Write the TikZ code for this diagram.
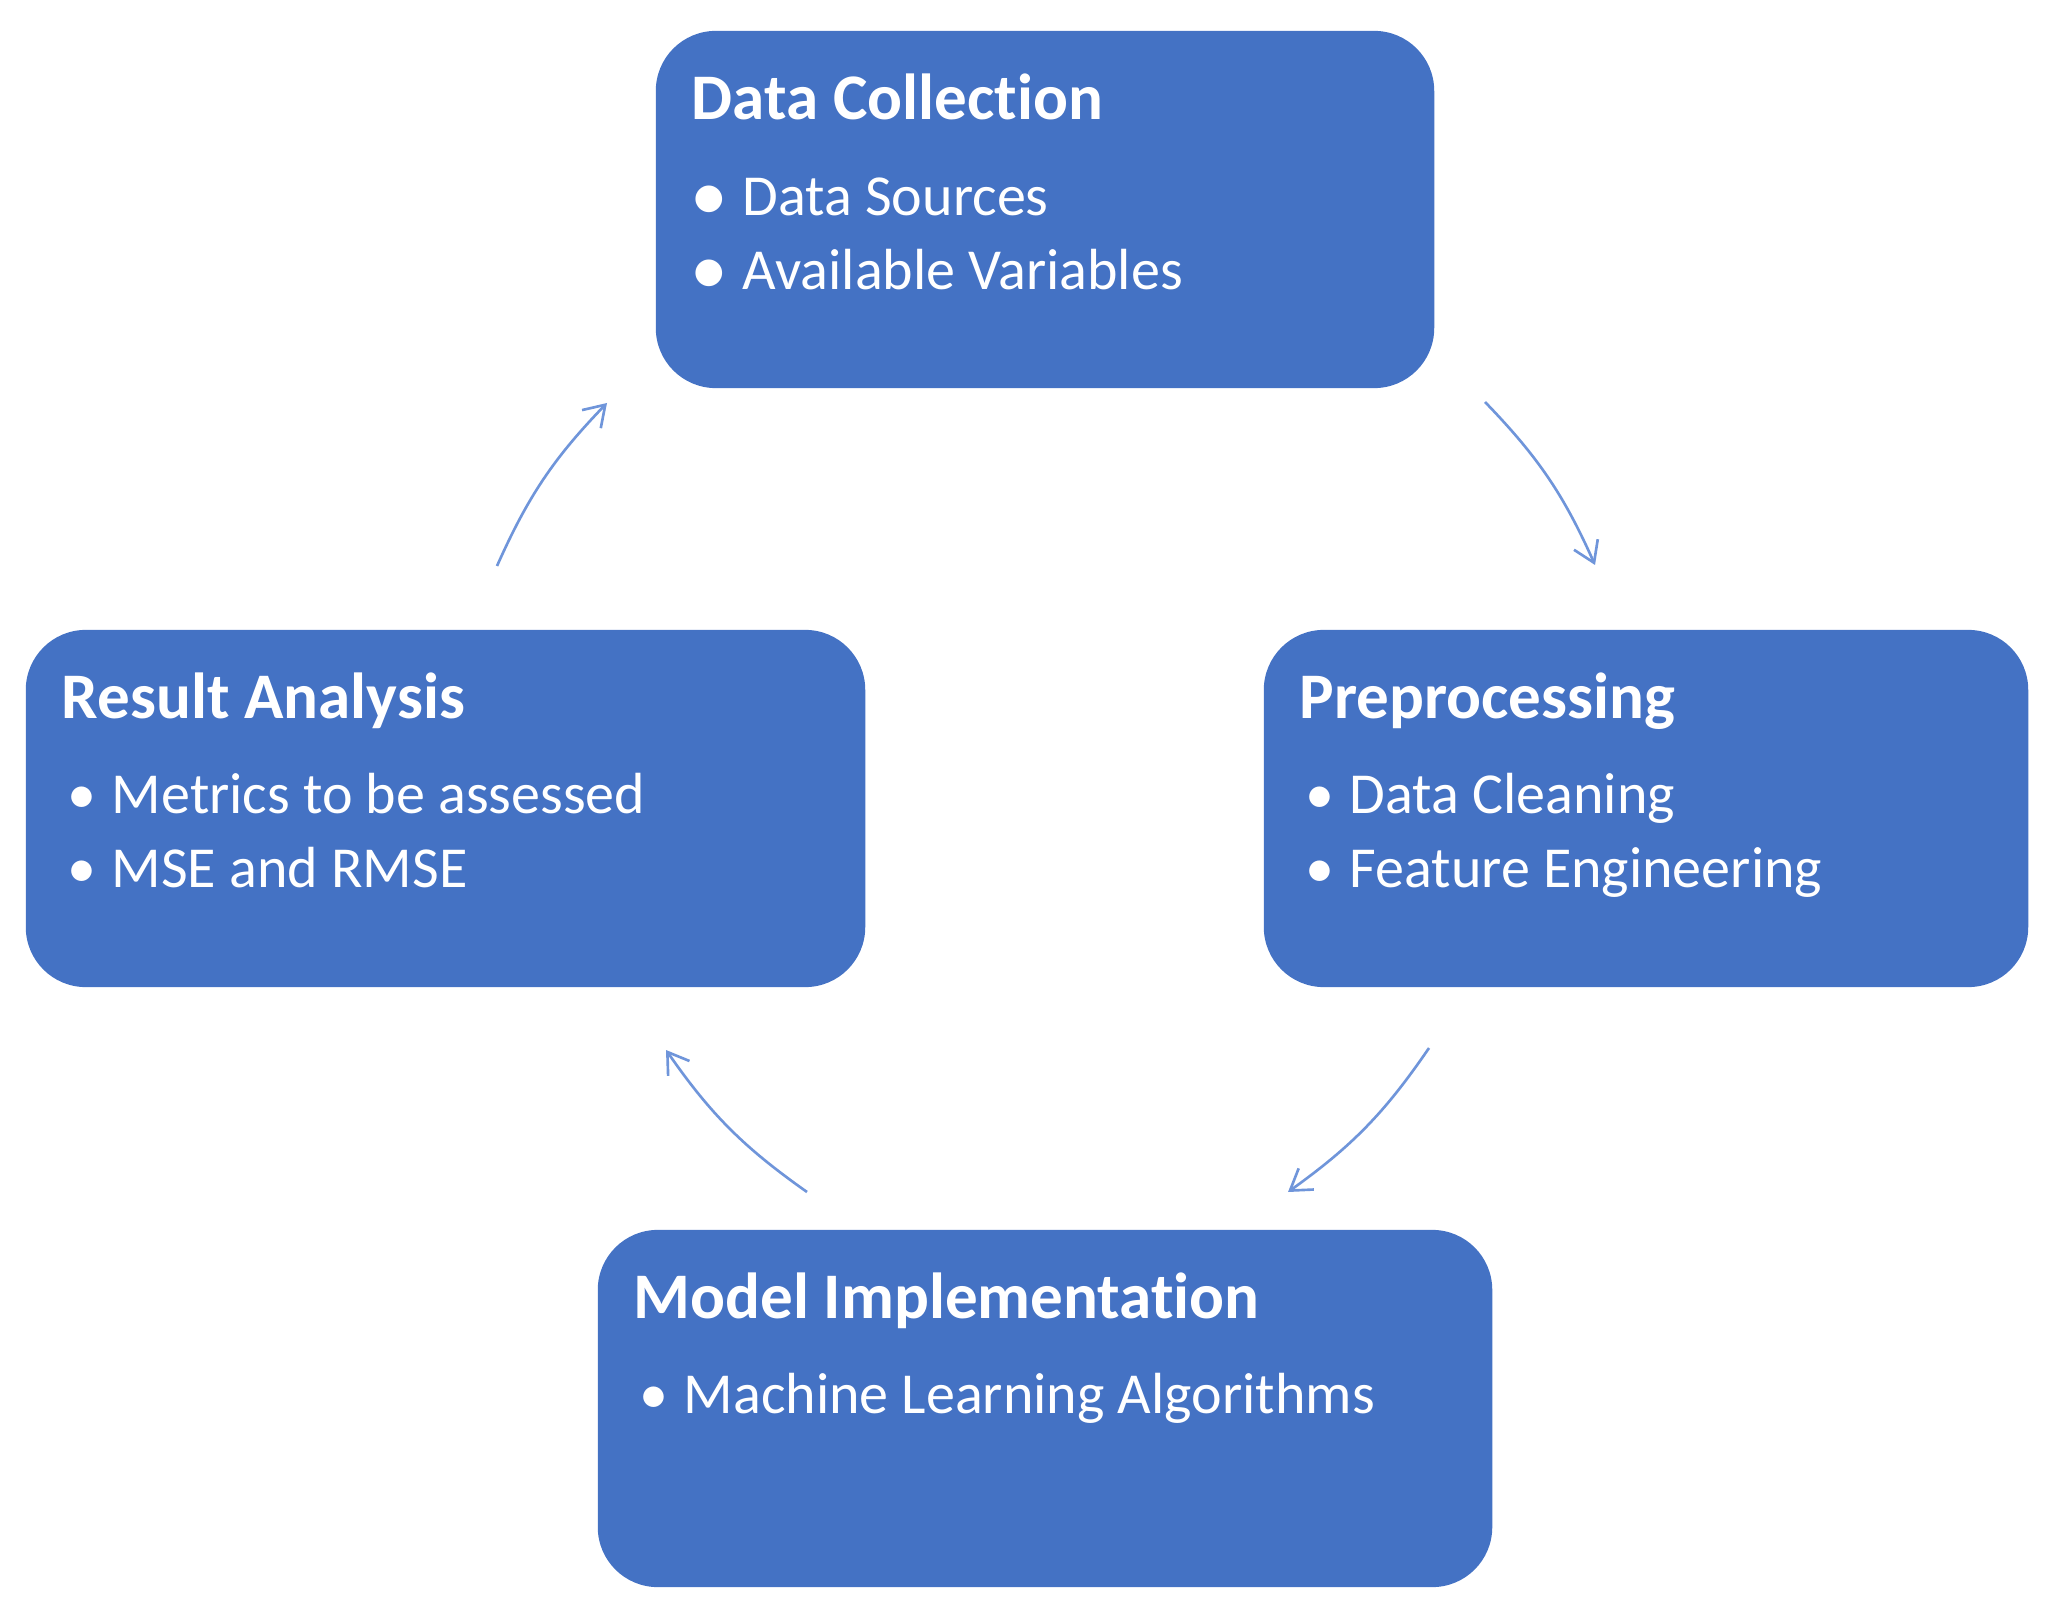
\documentclass[tikz,border=0pt]{standalone}
\usepackage{fontspec}
\setmainfont{Carlito}[Ligatures=NoCommon]
\usetikzlibrary{arrows.meta}
\definecolor{boxblue}{HTML}{4472C4}
\definecolor{flowblue}{HTML}{6F95DA}
\newcommand\bigbullet{\raisebox{-0.1em}{\scalebox{1.3}{\textbullet}}}

\begin{document}
\begin{tikzpicture}[x=0.01cm, y=-0.01cm,
  stage/.style={fill=boxblue, rounded corners=0.6cm, minimum height=3.57cm, inner sep=0},
  heading/.style={anchor=base west, inner sep=0, text=white, font=\fontsize{18.5}{22}\selectfont\bfseries},
  entry/.style={anchor=base west, inner sep=0, text=white, font=\fontsize{16.5}{20}\selectfont},
  flow/.style={draw=flowblue, line width=0.75pt, -{Straight Barb[length=0.2cm, width=0.26cm]}, bend left=10}]
\useasboundingbox (0,0) rectangle (2049,1613);

% Data Collection (top)
\node[stage, minimum width=7.78cm] (dc) at (1045,209.5) {};
\node[heading] (dc-title) at ([shift={(36,89)}]dc.north west) {Data Collection};
\node[entry] (dc-a) at ([shift={(35,185)}]dc.north west) {\makebox[0.52cm][l]{\bigbullet}Data Sources};
\node[entry] (dc-b) at ([shift={(35,259)}]dc.north west) {\makebox[0.52cm][l]{\bigbullet}Available Variables};

% Preprocessing (right)
\node[stage, minimum width=7.64cm] (pp) at (1646,808.5) {};
\node[heading] (pp-title) at ([shift={(36,89)}]pp.north west) {Preprocessing};
\node[entry] (pp-a) at ([shift={(42,184)}]pp.north west) {\makebox[0.44cm][l]{\textbullet}Data Cleaning};
\node[entry] (pp-b) at ([shift={(42,258)}]pp.north west) {\makebox[0.44cm][l]{\textbullet}Feature Engineering};

% Model Implementation (bottom)
\node[stage, minimum width=8.94cm] (mi) at (1045,1408.5) {};
\node[heading] (mi-title) at ([shift={(36,89)}]mi.north west) {Model Implementation};
\node[entry] (mi-a) at ([shift={(42,184)}]mi.north west) {\makebox[0.44cm][l]{\textbullet}Machine Learning Algorithms};

% Result Analysis (left)
\node[stage, minimum width=8.39cm] (ra) at (445.5,808.5) {};
\node[heading] (ra-title) at ([shift={(36,89)}]ra.north west) {Result Analysis};
\node[entry] (ra-a) at ([shift={(42,184)}]ra.north west) {\makebox[0.44cm][l]{\textbullet}Metrics to be assessed};
\node[entry] (ra-b) at ([shift={(42,258)}]ra.north west) {\makebox[0.44cm][l]{\textbullet}MSE and RMSE};

% arrow ends
\coordinate (ra-top) at (497,566);
\coordinate (dc-left) at (607,403);
\coordinate (dc-right) at (1485,402);
\coordinate (pp-top) at (1595,565);
\coordinate (pp-bottom) at (1429,1048);
\coordinate (mi-right) at (1288,1192);
\coordinate (mi-left) at (807,1192);
\coordinate (ra-bottom) at (666,1050);

% cycle
\draw[flow] (ra-top) to (dc-left);
\draw[flow] (dc-right) to (pp-top);
\draw[flow] (pp-bottom) to (mi-right);
\draw[flow] (mi-left) to (ra-bottom);

\end{tikzpicture}
\end{document}
